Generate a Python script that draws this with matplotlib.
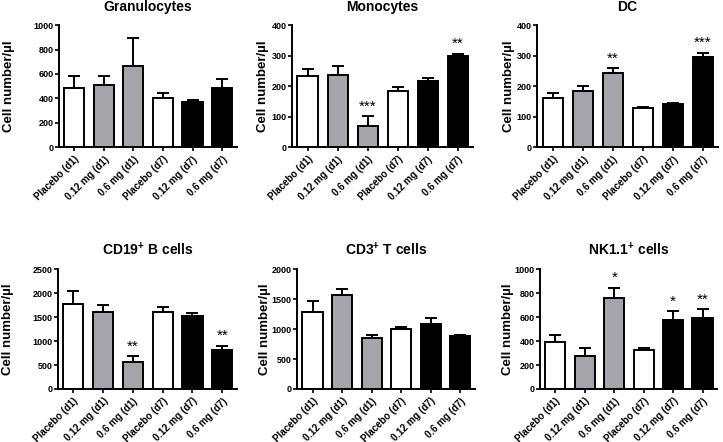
import matplotlib
matplotlib.use('Agg')
import matplotlib.pyplot as plt
import numpy as np

plt.rcParams['font.family'] = ['Liberation Sans', 'DejaVu Sans']
plt.rcParams['font.weight'] = 'bold'
plt.rcParams['mathtext.fontset'] = 'custom'
plt.rcParams['mathtext.rm'] = 'Liberation Sans:bold'
plt.rcParams['mathtext.bf'] = 'Liberation Sans:bold'

groups = ['Placebo (d1)', '0.12 mg (d1)', '0.6 mg (d1)',
          'Placebo (d7)', '0.12 mg (d7)', '0.6 mg (d7)']
bar_colors = ['white', '#a4a4aa', '#a4a4aa', 'white', 'black', 'black']

titles = ['Granulocytes', 'Monocytes', 'DC',
          'CD19$^{+}$ B cells', 'CD3$^{+}$ T cells', 'NK1.1$^{+}$ cells']

gran_mean = [486, 508, 662, 407, 371, 484]
gran_sem = [96, 72, 231, 38, 19, 79]
mono_mean = [233, 237, 68, 183, 218, 299]
mono_sem = [23, 29, 33, 14, 8, 8]
dc_mean = [160, 185, 242, 127, 140, 297]
dc_sem = [17, 15, 18, 5, 5, 13]
cd19_mean = [1775, 1609, 566, 1602, 1526, 808]
cd19_sem = [269, 152, 118, 111, 62, 97]
cd3_mean = [1281, 1565, 858, 997, 1081, 886]
cd3_sem = [195, 101, 45, 45, 111, 11]
nk_mean = [390, 273, 763, 326, 577, 591]
nk_sem = [58, 70, 84, 19, 72, 75]

means = [gran_mean, mono_mean, dc_mean, cd19_mean, cd3_mean, nk_mean]
sems = [gran_sem, mono_sem, dc_sem, cd19_sem, cd3_sem, nk_sem]
ymax = [1000, 400, 400, 2500, 2000, 1000]
ystep = [200, 100, 100, 500, 500, 200]
stars = [{}, {2: '***', 5: '**'}, {2: '**', 5: '***'},
         {2: '**', 5: '**'}, {}, {2: '*', 4: '*', 5: '**'}]

# axes rectangles (fig fraction) and y-label offsets
rects = [[0.0816, 0.667, 0.246, 0.276], [0.404, 0.667, 0.250, 0.276],
         [0.743, 0.667, 0.250, 0.276], [0.080, 0.120, 0.248, 0.271],
         [0.411, 0.120, 0.246, 0.271], [0.747, 0.120, 0.245, 0.271]]
label_x = [-0.245, -0.13, -0.125, -0.245, -0.145, -0.145]

fig = plt.figure(figsize=(7.23, 4.42), dpi=100, facecolor='white')
x = np.arange(len(groups))
for i in range(6):
    ax = fig.add_axes(rects[i])
    ax.bar(x, means[i], width=0.68, color=bar_colors, edgecolor='black',
           linewidth=1.4, zorder=2)
    ax.errorbar(x, means[i], yerr=[np.zeros(6), sems[i]], fmt='none',
                ecolor='black', elinewidth=1.4, capsize=4, capthick=1.4, zorder=1)
    for k, s in stars[i].items():
        ax.text(k, means[i][k] + sems[i][k] + ymax[i] * 0.02, s, ha='center',
                va='bottom', fontsize=11, fontweight='normal')
    ax.set_xlim(-0.52, 5.5)
    ax.set_ylim(0, ymax[i])
    ax.set_yticks(np.arange(0, ymax[i] + 1, ystep[i]))
    ax.set_xticks(x)
    ax.set_xticklabels(groups, rotation=45, ha='right', rotation_mode='anchor',
                       fontsize=7, fontweight='bold')
    ax.tick_params(axis='y', labelsize=6.5, width=1.2, length=3, pad=1)
    ax.tick_params(axis='x', width=1.2, length=3, pad=2)
    for lab in ax.get_yticklabels():
        lab.set_fontweight('bold')
    ax.spines['top'].set_visible(False)
    ax.spines['right'].set_visible(False)
    ax.spines['left'].set_linewidth(1.4)
    ax.spines['bottom'].set_linewidth(1.4)
    ax.set_ylabel('Cell number/µl', fontsize=9.5, fontweight='bold')
    ax.yaxis.set_label_coords(label_x[i], 0.5)
    ax.set_title(titles[i], fontsize=10, fontweight='bold', pad=10)

fig.savefig('out.png', dpi=100, facecolor='white')
